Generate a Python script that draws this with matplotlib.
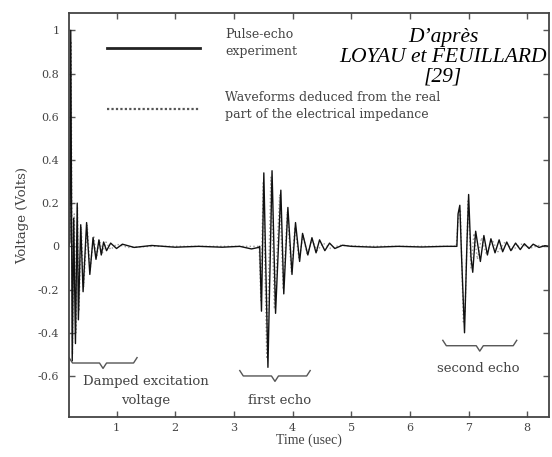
import matplotlib
matplotlib.use('Agg')
import matplotlib.pyplot as plt

plt.rcParams['font.family'] = ['Liberation Serif', 'DejaVu Serif']

t_exp = [0.19, 0.205, 0.22, 0.245, 0.27, 0.30, 0.33, 0.35, 0.39, 0.43, 0.49, 0.545,
         0.60, 0.65, 0.70, 0.74, 0.78, 0.83, 0.90, 1.00, 1.10, 1.30, 1.60, 2.00,
         2.40, 2.80, 3.10, 3.30, 3.42,
         3.44, 3.47, 3.51, 3.58, 3.65, 3.71, 3.80, 3.85, 3.92, 3.99, 4.05, 4.12,
         4.17, 4.26, 4.33, 4.40, 4.46, 4.55, 4.63, 4.72, 4.85, 5.00, 5.40, 5.80,
         6.20, 6.60, 6.78,
         6.80, 6.82, 6.85, 6.88, 6.93, 6.97, 7.00, 7.04, 7.07, 7.12, 7.20, 7.26,
         7.32, 7.38, 7.45, 7.52, 7.58, 7.65, 7.72, 7.80, 7.88, 7.95, 8.03, 8.10,
         8.20, 8.30, 8.37]
v_exp = [0.0, 0.02, 1.0, -0.53, 0.13, -0.45, 0.20, -0.34, 0.10, -0.21, 0.11, -0.13,
         0.04, -0.06, 0.03, -0.04, 0.02, -0.02, 0.015, -0.01, 0.01, -0.005, 0.004, -0.004,
         0.0, -0.004, 0.0, -0.012, -0.005,
         0.0, -0.30, 0.34, -0.56, 0.35, -0.31, 0.26, -0.22, 0.18, -0.13, 0.11, -0.07,
         0.06, -0.04, 0.04, -0.03, 0.03, -0.02, 0.015, -0.01, 0.005, 0.0, -0.004, 0.0,
         -0.003, 0.0, 0.0,
         0.0, 0.15, 0.19, -0.05, -0.40, 0.0, 0.24, -0.05, -0.12, 0.07, -0.07, 0.05,
         -0.04, 0.035, -0.03, 0.03, -0.025, 0.02, -0.02, 0.015, -0.015, 0.012, -0.01, 0.01,
         -0.005, 0.003, 0.0]

# waveforms deduced from the real part of the electrical impedance
t_ded = [0.19, 0.21, 0.225, 0.25, 0.28, 0.31, 0.335, 0.36, 0.40, 0.44, 0.50, 0.55,
         0.61, 0.66, 0.71, 0.76, 0.82, 0.90, 1.00, 1.20, 1.60, 2.20, 2.80, 3.30, 3.43,
         3.46, 3.50, 3.56, 3.63, 3.69, 3.78, 3.84, 3.91, 3.98, 4.04, 4.11, 4.18, 4.25,
         4.33, 4.42, 4.52, 4.65, 4.80, 5.20, 6.00, 6.79,
         6.82, 6.86, 6.91, 6.94, 6.99, 7.04, 7.09, 7.15, 7.22, 7.30, 7.40, 7.50,
         7.62, 7.75, 7.90, 8.05, 8.20, 8.37]
v_ded = [0.0, 0.05, 0.95, -0.50, 0.15, -0.40, 0.18, -0.30, 0.09, -0.19, 0.10, -0.11,
         0.05, -0.05, 0.03, -0.03, 0.02, -0.015, 0.01, -0.005, 0.0, 0.0, 0.0, 0.0, 0.0,
         -0.25, 0.30, -0.52, 0.32, -0.29, 0.24, -0.20, 0.16, -0.12, 0.09, -0.06,
         0.05, -0.04, 0.03, -0.02, 0.015, -0.01, 0.005, 0.0, 0.0, 0.0,
         0.12, 0.17, -0.35, -0.30, 0.21, -0.10, 0.06, -0.06, 0.04, -0.035, 0.03, -0.025,
         0.02, -0.015, 0.01, -0.008, 0.004, 0.0]

x_ticks = [1, 2, 3, 4, 5, 6, 7, 8]
y_ticks = [-0.6, -0.4, -0.2, 0, 0.2, 0.4, 0.6, 0.8, 1]
y_ticklabels = ['-0.6', '-0.4', '-0.2', '0', '0.2', '0.4', '0.6', '0.8', '1']

txt = '#444444'
wide = ['DejaVu Serif']  # the scanned labels are set wide

fig = plt.figure(figsize=(5.52, 4.57), dpi=100)
ax = fig.add_axes([0.125, 0.0875, 0.8696, 0.884])

ax.plot(t_ded, v_ded, color='#9a9a9a', lw=1.0, ls=':')
ax.plot(t_exp, v_exp, color='#111111', lw=1.0)

ax.set_xlim(0.19, 8.37)
ax.set_ylim(-0.79, 1.08)
ax.set_xticks(x_ticks)
ax.set_yticks(y_ticks)
ax.set_yticklabels(y_ticklabels)
ax.tick_params(direction='in', length=4, width=1, top=True, right=True,
               labelsize=8, labelcolor=txt, color='#555555', pad=7)
ax.tick_params(axis='x', pad=4)
for lab in ax.get_xticklabels() + ax.get_yticklabels():
    lab.set_family(wide)
for s in ax.spines.values():
    s.set_color('#444444')
    s.set_linewidth(1.3)
ax.set_xlabel('Time (usec)', fontsize=10, color=txt, labelpad=1)
ax.set_ylabel('Voltage (Volts)', fontsize=9.5, color=txt, labelpad=6, family=wide)

# legend drawn by hand
ax.plot([0.83, 2.42], [0.92, 0.92], color='#222222', lw=2)
ax.plot([0.83, 2.42], [0.634, 0.634], color='#555555', lw=1.6, ls=(0, (1, 1)))
ax.text(2.85, 0.943, 'Pulse-echo\nexperiment', fontsize=9, color=txt,
        va='center', linespacing=1.4, family=wide)
ax.text(2.85, 0.65, 'Waveforms deduced from the real\npart of the electrical impedance',
        fontsize=9, color=txt, va='center', linespacing=1.4, family=wide)

# braces under the three bursts
def brace(x0, x1, y, h=0.025):
    xm = (x0 + x1) / 2
    ax.plot([x0, x0 + 0.06, xm - 0.06, xm, xm + 0.06, x1 - 0.06, x1],
            [y + h, y, y, y - h, y, y, y + h], color='#555555', lw=1.0)

brace(0.19, 1.35, -0.54)
brace(3.10, 4.30, -0.60)
brace(6.56, 7.82, -0.46)

ax.text(1.5, -0.625, 'Damped excitation', fontsize=9.5, color=txt, ha='center',
        va='center', family=wide)
ax.text(1.5, -0.715, 'voltage', fontsize=9.5, color=txt, ha='center', va='center',
        family=wide)
ax.text(3.78, -0.715, 'first echo', fontsize=9.5, color=txt, ha='center', va='center',
        family=wide)
ax.text(7.16, -0.565, 'second echo', fontsize=9.5, color=txt, ha='center', va='center',
        family=wide)

fig.text(0.803, 0.875, 'D\u2019apr\u00e8s\nLOYAU et FEUILLARD\n[29]', fontsize=15.5,
         style='italic', ha='center', va='center', color='black', linespacing=1.05)

fig.savefig('out.png', dpi=100)
